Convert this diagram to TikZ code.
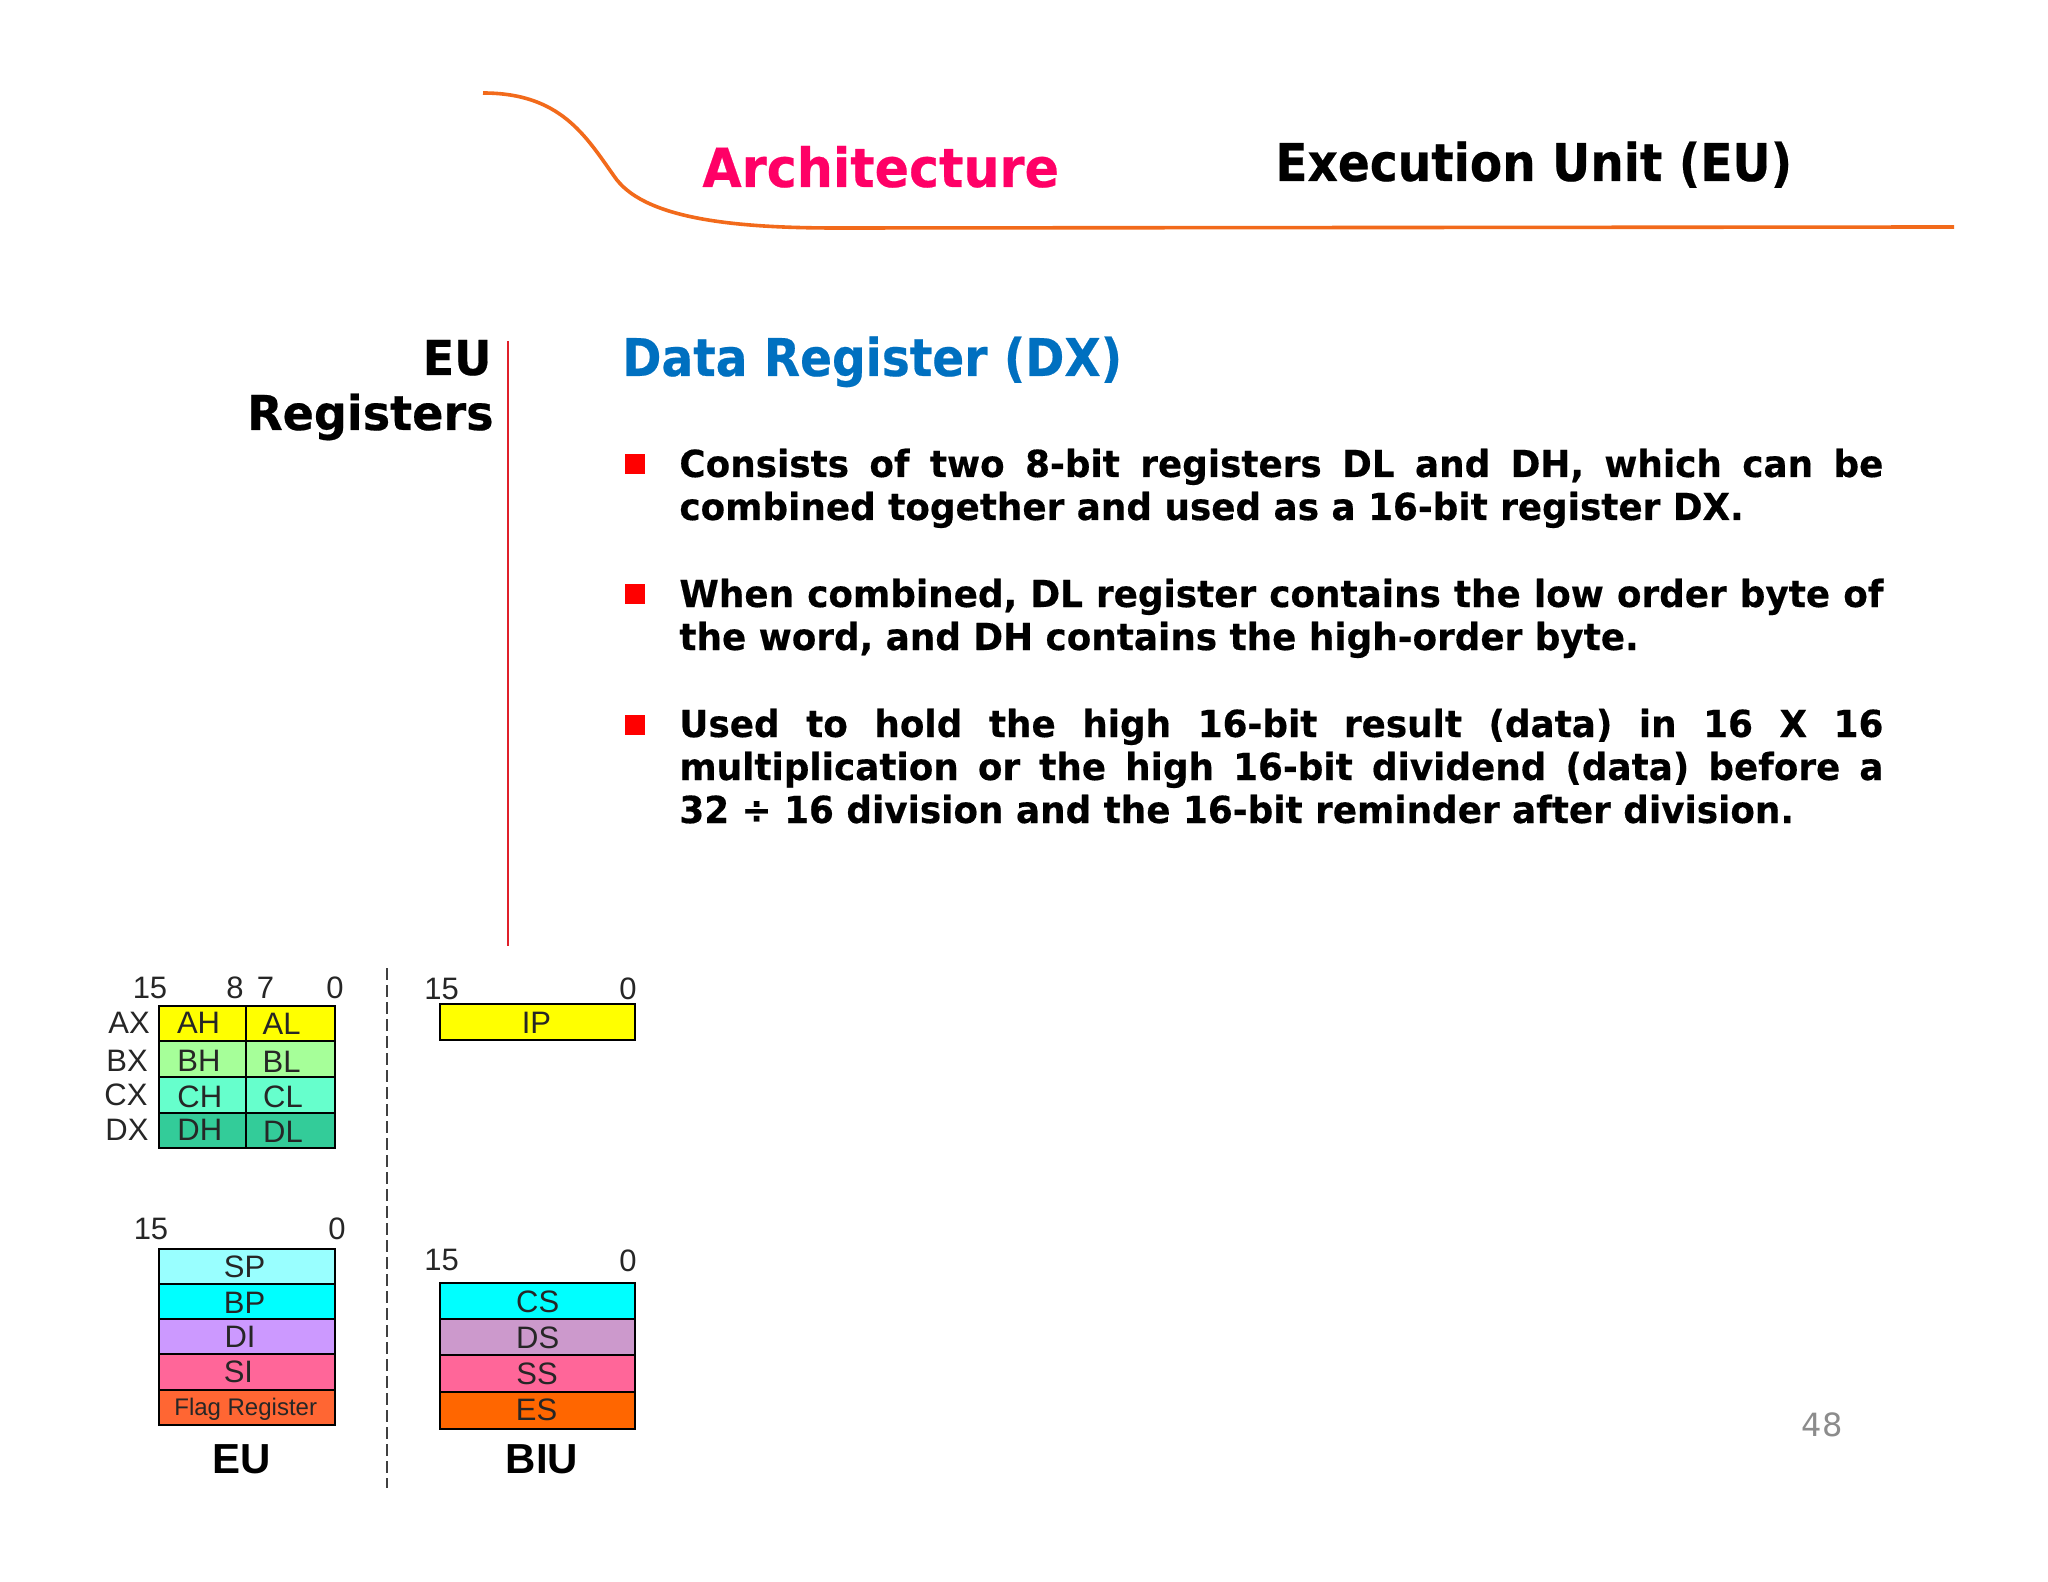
\documentclass[tikz,border=0pt]{standalone}
\usepackage{fontspec}
\setmainfont{DejaVu Sans}
\newfontfamily\arialf{Liberation Sans}
\newfontfamily\bodyf{DejaVu Sans}[BoldFeatures={FakeStretch=0.962,FakeBold=0.4}]
\newfontfamily\titlef{DejaVu Sans}[BoldFeatures={FakeStretch=0.905,FakeBold=0.4}]
\newfontfamily\archf{DejaVu Sans}[BoldFeatures={FakeStretch=0.94,FakeBold=0.4}]
\newfontfamily\headf{DejaVu Sans}[BoldFeatures={FakeStretch=0.96,FakeBold=0.4}]
\definecolor{orangeline}{HTML}{F26A1B}
\definecolor{archpink}{HTML}{FF0066}
\definecolor{dxblue}{HTML}{0070C0}
\definecolor{pureyellow}{HTML}{FFFF00}
\definecolor{purered}{HTML}{FF0000}
\definecolor{redrule}{HTML}{E0202A}
\definecolor{cbh}{HTML}{A6FF99}
\definecolor{cch}{HTML}{66FFCC}
\definecolor{cdh}{HTML}{33CC99}
\definecolor{csp}{HTML}{99FFFF}
\definecolor{ccy}{HTML}{00FFFF}
\definecolor{cdi}{HTML}{CC99FF}
\definecolor{csi}{HTML}{FF6699}
\definecolor{cfl}{HTML}{FF6633}
\definecolor{cds}{HTML}{CC99CC}
\definecolor{ces}{HTML}{FF6600}
\newlength{\bodyw}\setlength{\bodyw}{602pt}
\tikzset{
  title/.style={anchor=base west,inner sep=0pt,font=\titlef\bfseries\fontsize{26}{26}\selectfont},
  headr/.style={anchor=base east,inner sep=0pt,font=\headf\bfseries\fontsize{24}{24}\selectfont},
  bodyline/.style={anchor=base west,inner sep=0pt,font=\bodyf\bfseries\fontsize{18.6}{18.6}\selectfont},
  bullet/.style={fill=purered,draw=none,minimum size=10pt,inner sep=0pt},
  cell/.style={draw=black,line width=1pt},
  lab/.style={inner sep=0pt,text=black!85,font=\arialf\fontsize{15.5}{15.5}\selectfont},
  small/.style={inner sep=0pt,text=black!85,font=\arialf\fontsize{12}{12}\selectfont},
  biglab/.style={inner sep=0pt,font=\arialf\bfseries\fontsize{21}{21}\selectfont},
}
\newcommand{\full}[1]{\makebox[\bodyw][s]{#1}}
\begin{document}
\begin{tikzpicture}[x=0.5pt,y=-0.5pt]
\useasboundingbox (0,0) rectangle (2048,1582);
\fill[white] (0,0) rectangle (2048,1582);
% header curve
\draw[orangeline,line width=1.8pt] (483,93) .. controls (560,93) and (585,135) .. (614,176)
  .. controls (642,218) and (730,228) .. (836,228) -- (1954,227);
\node[title,text=archpink,font=\archf\bfseries\fontsize{27}{27}\selectfont] (arch) at (702,187) {Architecture};
\node[title] (eu) at (1275,181) {Execution Unit (EU)};
% left heading
\node[headr] (h1) at (492,375) {EU};
\node[headr] (h2) at (494,430) {Registers};
\draw[redrule,line width=1.1pt] (508,341) -- (508,946);
% body
\node[title,text=dxblue] (dx) at (622,376) {Data Register (DX)};
\node[bullet] (b1) at (635,464) {};
\node[bullet] (b2) at (635,594) {};
\node[bullet] (b3) at (635,725) {};
\node[bodyline] (p1a) at (679,477) {\full{Consists of two 8-bit registers DL and DH, which can be}};
\node[bodyline] (p1b) at (679,520) {combined together and used as a 16-bit register DX.};
\node[bodyline] (p2a) at (679,607) {\full{When combined, DL register contains the low order byte of}};
\node[bodyline] (p2b) at (679,650) {the word, and DH contains the high-order byte.};
\node[bodyline] (p3a) at (679,737) {\full{Used to hold the high 16-bit result (data) in 16 X 16}};
\node[bodyline] (p3b) at (679,780) {\full{multiplication or the high 16-bit dividend (data) before a}};
\node[bodyline] (p3c) at (679,823) {32 ÷ 16 division and the 16-bit reminder after division.};
% divider
\draw[black!75,line width=1pt,dash pattern=on 6pt off 2.5pt] (386.5,968) -- (386.5,1488);
% general registers
\draw[cell,fill=pureyellow] (158.5,1006.4) rectangle (245.7,1041.4);
\draw[cell,fill=pureyellow] (245.7,1006.4) rectangle (334.5,1041.4);
\draw[cell,fill=cbh] (158.5,1041.4) rectangle (245.7,1076.8);
\draw[cell,fill=cbh] (245.7,1041.4) rectangle (334.5,1076.8);
\draw[cell,fill=cch] (158.5,1076.8) rectangle (245.7,1112.5);
\draw[cell,fill=cch] (245.7,1076.8) rectangle (334.5,1112.5);
\draw[cell,fill=cdh] (158.5,1112.5) rectangle (245.7,1148);
\draw[cell,fill=cdh] (245.7,1112.5) rectangle (334.5,1148);
% pointer registers
\draw[cell,fill=csp] (158.5,1248.6) rectangle (334.5,1284);
\draw[cell,fill=ccy] (158.5,1284) rectangle (334.5,1318.6);
\draw[cell,fill=cdi] (158.5,1318.6) rectangle (334.5,1353.6);
\draw[cell,fill=csi] (158.5,1353.6) rectangle (334.5,1390);
\draw[cell,fill=cfl] (158.5,1390) rectangle (334.5,1425);
% BIU
\draw[cell,fill=pureyellow] (439.7,1004.3) rectangle (635,1040);
\draw[cell,fill=ccy] (439.7,1283) rectangle (635,1319);
\draw[cell,fill=cds] (439.7,1319) rectangle (635,1355);
\draw[cell,fill=csi] (439.7,1355) rectangle (635,1391.8);
\draw[cell,fill=ces] (439.7,1391.8) rectangle (635,1428.6);
% labels
\node[lab] (t15a) at (150,988) {15};
\node[lab] (t8) at (235,988) {8};
\node[lab] (t7) at (265.6,987.5) {7};
\node[lab] (t0a) at (335,988) {0};
\node[lab] (t15b) at (441.6,989) {15};
\node[lab] (t0b) at (628,989) {0};
\node[lab] (t15c) at (151,1228.6) {15};
\node[lab] (t0c) at (337,1228.6) {0};
\node[lab] (t15d) at (441.6,1260) {15};
\node[lab] (t0d) at (628,1260.7) {0};
\node[lab] (ax) at (129,1023) {AX};
\node[lab] (bx) at (127,1060.7) {BX};
\node[lab] (cx) at (126,1095) {CX};
\node[lab] (dxl) at (127,1129.6) {DX};
\node[lab] (ah) at (198.6,1023) {AH};
\node[lab] (al) at (281.7,1024) {AL};
\node[lab] (bh) at (199,1060.7) {BH};
\node[lab] (bl) at (281.7,1061.4) {BL};
\node[lab] (ch) at (199.8,1096.4) {CH};
\node[lab] (cl) at (283,1096.4) {CL};
\node[lab] (dh) at (199.8,1129.6) {DH};
\node[lab] (dl) at (283,1131.4) {DL};
\node[lab] (sp) at (244.6,1267) {SP};
\node[lab] (bp) at (244.6,1303) {BP};
\node[lab] (di) at (240,1336.4) {DI};
\node[lab] (si) at (238.4,1372) {SI};
\node[small] (flag) at (245.7,1409) {Flag Register};
\node[lab] (ip) at (536.5,1022.5) {IP};
\node[lab] (cs) at (537.7,1301.8) {CS};
\node[lab] (ds) at (537.7,1337.5) {DS};
\node[lab] (ss) at (537,1374) {SS};
\node[lab] (es) at (536.6,1409.6) {ES};
\node[biglab] (eub) at (242,1459) {EU};
\node[biglab] (biu) at (542,1459) {BIU};
\node[inner sep=0pt,text=black!45,font=\fontsize{16}{16}\selectfont] (pg) at (1822,1425) {48};
\end{tikzpicture}
\end{document}
